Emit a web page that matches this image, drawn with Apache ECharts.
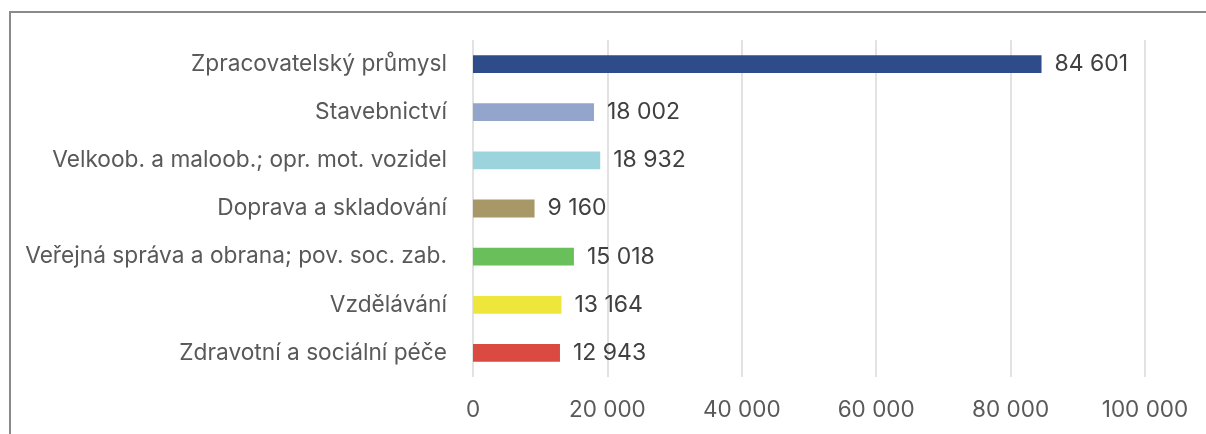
<!DOCTYPE html>
<html>
<head>
<meta charset="utf-8">
<script src="https://cdn.jsdelivr.net/npm/echarts@6/dist/echarts.min.js"></script>
<style>
  html, body { margin: 0; padding: 0; background: #fff; }
  #frame { position: absolute; left: 9px; top: 11px; width: 1400px; height: 600px; border: 2px solid #8a8a8a; }
  #chart { position: absolute; left: 0; top: 0; width: 1206px; height: 434px; }
</style>
</head>
<body>
<div id="frame"></div>
<div id="chart"></div>
<script>
const categories = [
  "Zpracovatelský průmysl",
  "Stavebnictví",
  "Velkoob. a maloob.; opr. mot. vozidel",
  "Doprava a skladování",
  "Veřejná správa a obrana; pov. soc. zab.",
  "Vzdělávání",
  "Zdravotní a sociální péče"
];
const values = [84601, 18002, 18932, 9160, 15018, 13164, 12943];
const barColors = ["#2e4b8a", "#94a5cb", "#9cd4dd", "#a89868", "#69c05a", "#efe63c", "#da4a41"];
const xTicks = [0, 20000, 40000, 60000, 80000, 100000];

function fmt(v) {
  return String(v).replace(/\B(?=(\d{3})+(?!\d))/g, " ");
}

const chart = echarts.init(document.getElementById("chart"));
chart.setOption({
  animation: false,
  textStyle: { fontFamily: "Inter" },
  grid: { left: 473, right: 61, top: 40, bottom: 57 },
  xAxis: {
    type: "value",
    min: xTicks[0],
    max: xTicks[xTicks.length - 1],
    interval: xTicks[1] - xTicks[0],
    axisLine: { show: false },
    axisTick: { show: false },
    axisLabel: { color: "#595959", fontSize: 22.5, margin: 22, formatter: fmt },
    splitLine: { lineStyle: { color: "#d9d9d9", width: 1.5 } }
  },
  yAxis: {
    type: "category",
    inverse: true,
    data: categories,
    axisLine: { show: false },
    axisTick: { show: false },
    axisLabel: { color: "#595959", fontSize: 22.7, margin: 26 }
  },
  series: [{
    type: "bar",
    barWidth: "37%",
    data: values.map((v, i) => ({ value: v, itemStyle: { color: barColors[i] } })),
    label: {
      show: true,
      position: "right",
      distance: 13,
      color: "#404040",
      fontSize: 23,
      formatter: p => fmt(p.value)
    }
  }]
});
</script>
</body>
</html>
